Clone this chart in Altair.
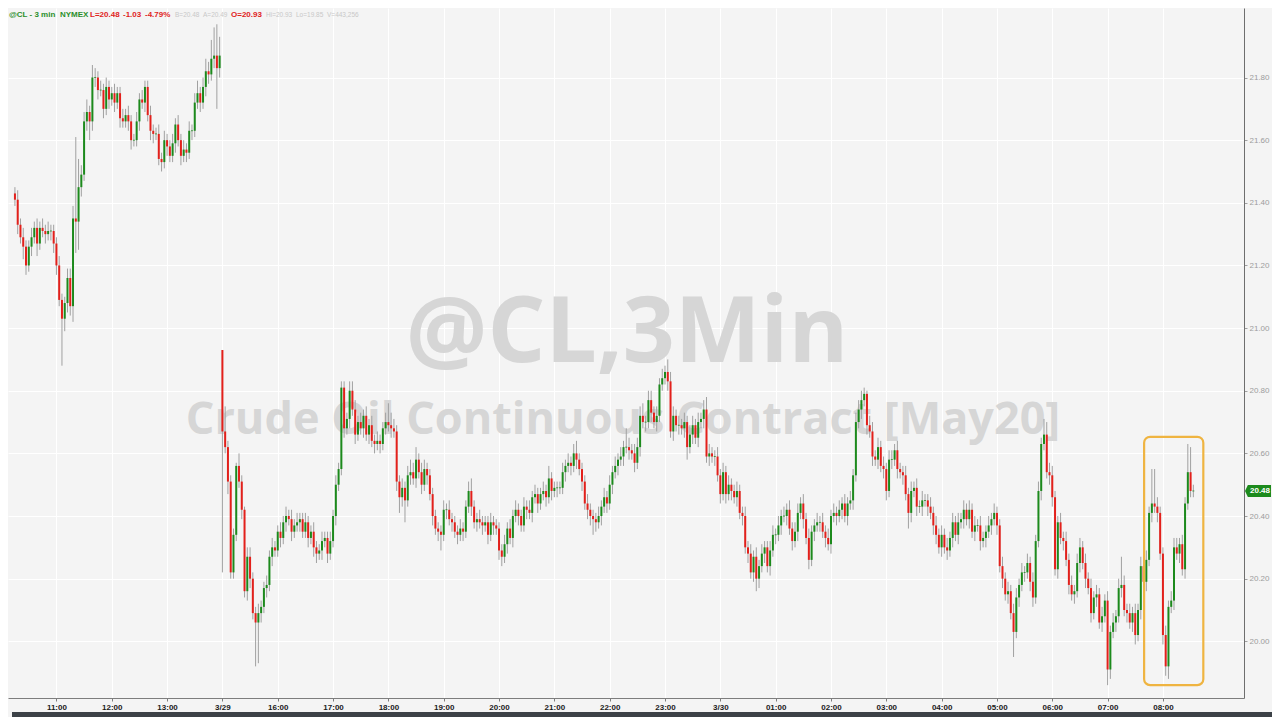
import altair as alt
import pandas as pd

# ---------------- data (prices in cents above $20.00) ----------------
# session 1: 10:15 .. 13:57 (3-minute bars)
session1_close = [
    141, 133, 129, 126, 120, 126, 129, 132, 127, 132,
    131, 130, 131, 131, 127, 120, 109, 103, 108, 116,
    107, 135, 134, 145, 149, 166, 169, 166, 180, 180,
    176, 176, 170, 177, 173, 175, 172, 175, 167, 166,
    168, 166, 160, 160, 166, 173, 172, 177, 168, 163,
    162, 162, 154, 153, 160, 158, 155, 159, 165, 160,
    155, 157, 156, 163, 163, 172, 175, 172, 177, 182,
    181, 186, 187, 183, 187]
session1_upper_wick = [
    2, 3, 2, 3, 2, 2, 3, 2, 3, 2,
    3, 2, 3, 2, 2, 2, 3, 2, 2, 3,
    3, 4, 26, 9, 3, 3, 4, 2, 4, 3,
    2, 3, 2, 3, 2, 2, 3, 2, 2, 3,
    2, 3, 2, 2, 3, 2, 3, 2, 2, 3,
    2, 2, 3, 2, 3, 2, 2, 3, 2, 3,
    2, 3, 2, 3, 2, 3, 4, 2, 3, 4,
    3, 6, 9, 10, 6]
session1_lower_wick = [
    2, 3, 2, 4, 3, 2, 3, 2, 4, 2,
    2, 3, 2, 3, 3, 3, 2, 15, 4, 3,
    3, 5, 10, 9, 3, 2, 3, 6, 3, 3,
    3, 2, 3, 2, 3, 2, 3, 2, 3, 2,
    2, 3, 3, 2, 2, 3, 2, 3, 2, 3,
    3, 2, 2, 3, 2, 3, 2, 2, 3, 2,
    3, 2, 3, 2, 3, 2, 2, 3, 2, 3,
    3, 2, 3, 13, 3]

# session 2: 3/29 15:00 .. 3/30 08:33
session2_close = [
    67, 62, 51, 22, 34, 56, 51, 42, 16, 27,
    20, 9, 6, 9, 11, 17, 18, 27, 30, 29,
    35, 33, 38, 40, 39, 35, 37, 38, 39, 35,
    38, 33, 35, 30, 28, 29, 32, 33, 28, 32,
    40, 50, 55, 81, 68, 71, 80, 74, 66, 70,
    68, 72, 66, 69, 64, 63, 64, 63, 68, 70,
    69, 68, 67, 51, 46, 49, 45, 53, 54, 52,
    58, 54, 50, 55, 53, 47, 40, 36, 35, 34,
    42, 42, 39, 38, 35, 34, 36, 35, 43, 48,
    43, 38, 39, 38, 37, 38, 34, 38, 37, 36,
    29, 27, 31, 36, 33, 40, 42, 40, 37, 43,
    42, 41, 46, 47, 44, 47, 48, 46, 52, 48,
    49, 49, 49, 54, 56, 57, 56, 60, 58, 55,
    51, 44, 42, 40, 39, 38, 40, 43, 46, 44,
    50, 54, 56, 58, 59, 62, 62, 61, 60, 57,
    62, 72, 70, 70, 77, 73, 70, 72, 82, 84,
    86, 83, 67, 72, 69, 69, 68, 70, 62, 66,
    69, 65, 70, 71, 74, 59, 60, 59, 59, 53,
    47, 54, 47, 50, 48, 46, 48, 41, 40, 30,
    28, 22, 27, 20, 24, 28, 30, 24, 29, 34,
    34, 37, 40, 40, 42, 36, 32, 35, 41, 44,
    39, 33, 26, 35, 37, 38, 38, 35, 33, 31,
    40, 41, 40, 42, 44, 40, 44, 45, 53, 70,
    74, 77, 79, 69, 67, 59, 58, 62, 56, 55,
    48, 58, 58, 61, 55, 54, 53, 47, 41, 48,
    49, 43, 43, 45, 45, 43, 41, 37, 34, 30,
    34, 30, 29, 33, 38, 34, 38, 39, 42, 39,
    42, 35, 37, 37, 32, 33, 35, 37, 39, 41,
    37, 24, 20, 15, 16, 9, 3, 14, 18, 22,
    22, 25, 19, 14, 32, 48, 63, 66, 54, 53,
    46, 23, 38, 33, 32, 26, 18, 15, 16, 25,
    30, 25, 20, 17, 9, 14, 15, 6, 8, 13,
    -9, 3, 6, 8, 17, 18, 10, 9, 6, 9,
    2, 10, 24, 19, 26, 41, 44, 43, 41, 28,
    2, -8, 11, 13, 30, 28, 31, 23, 44, 54,
    48, 48]
session2_upper_wick = [
    0, 8, 2, 2, 2, 1, 4, 2, 1, 3,
    3, 2, 2, 3, 2, 2, 3, 2, 3, 2,
    2, 3, 2, 3, 2, 3, 2, 3, 2, 2,
    3, 2, 2, 3, 2, 2, 3, 2, 2, 3,
    2, 3, 2, 2, 2, 2, 3, 3, 3, 2,
    3, 2, 3, 2, 3, 2, 3, 2, 2, 3,
    6, 4, 3, 2, 2, 3, 2, 3, 4, 3,
    4, 2, 3, 3, 2, 2, 2, 2, 2, 2,
    3, 2, 3, 2, 2, 2, 3, 2, 2, 3,
    4, 2, 2, 3, 2, 2, 2, 3, 2, 2,
    2, 2, 3, 2, 3, 2, 3, 2, 2, 3,
    2, 3, 2, 3, 2, 2, 3, 2, 4, 2,
    2, 2, 2, 3, 2, 3, 2, 3, 4, 2,
    2, 2, 3, 2, 2, 2, 3, 2, 3, 2,
    3, 2, 3, 2, 3, 2, 6, 3, 2, 3,
    3, 3, 4, 2, 3, 3, 2, 3, 2, 3,
    2, 4, 3, 3, 2, 3, 2, 3, 2, 3,
    3, 2, 3, 2, 3, 4, 3, 2, 2, 3,
    2, 3, 2, 3, 2, 2, 3, 2, 2, 3,
    2, 3, 2, 3, 2, 3, 2, 2, 3, 3,
    2, 3, 2, 3, 2, 3, 2, 3, 3, 2,
    3, 2, 3, 2, 2, 3, 2, 3, 2, 3,
    2, 3, 2, 3, 2, 3, 2, 3, 2, 3,
    3, 3, 2, 1, 3, 3, 2, 3, 2, 3,
    2, 3, 3, 2, 3, 2, 2, 3, 2, 3,
    2, 3, 2, 3, 2, 2, 3, 2, 3, 2,
    3, 2, 3, 2, 3, 2, 3, 2, 3, 2,
    3, 2, 3, 2, 3, 2, 2, 3, 2, 3,
    2, 2, 3, 2, 3, 2, 3, 3, 2, 3,
    2, 3, 2, 3, 2, 3, 2, 5, 4, 3,
    3, 2, 2, 3, 2, 3, 2, 3, 2, 3,
    3, 2, 3, 2, 3, 2, 3, 2, 3, 2,
    3, 2, 3, 2, 3, 9, 3, 2, 3, 2,
    3, 2, 3, 3, 3, 2, 11, 11, 3, 2,
    2, 3, 2, 3, 3, 3, 2, 3, 2, 9,
    8, 2]
session2_lower_wick = [
    45, 2, 4, 2, 2, 2, 2, 3, 2, 3,
    3, 2, 14, 13, 3, 2, 3, 2, 3, 2,
    2, 3, 2, 3, 2, 3, 2, 2, 3, 2,
    2, 3, 2, 3, 3, 2, 3, 2, 3, 2,
    2, 3, 2, 2, 3, 2, 3, 2, 3, 2,
    2, 3, 2, 3, 2, 3, 2, 3, 2, 2,
    2, 3, 2, 3, 5, 3, 7, 2, 3, 2,
    3, 2, 3, 2, 3, 2, 3, 2, 3, 5,
    2, 3, 2, 3, 2, 3, 2, 3, 2, 2,
    3, 2, 3, 2, 3, 2, 3, 2, 3, 2,
    3, 3, 2, 3, 2, 3, 2, 3, 2, 2,
    3, 2, 3, 2, 3, 2, 2, 3, 2, 3,
    2, 3, 2, 2, 3, 2, 3, 2, 3, 2,
    3, 2, 3, 3, 5, 3, 2, 3, 2, 3,
    2, 3, 2, 3, 2, 3, 2, 3, 2, 3,
    2, 3, 2, 3, 2, 3, 2, 3, 2, 2,
    2, 3, 2, 3, 2, 3, 2, 3, 4, 2,
    3, 2, 3, 2, 3, 2, 3, 2, 3, 2,
    3, 2, 3, 2, 3, 2, 3, 2, 3, 2,
    3, 2, 3, 4, 3, 2, 3, 2, 3, 2,
    3, 2, 3, 2, 3, 2, 3, 2, 3, 2,
    3, 2, 3, 2, 3, 2, 3, 2, 3, 2,
    3, 2, 3, 2, 3, 2, 3, 2, 3, 2,
    2, 3, 2, 3, 2, 3, 2, 3, 2, 3,
    3, 2, 3, 2, 3, 2, 3, 2, 5, 3,
    2, 3, 2, 3, 2, 3, 2, 3, 3, 2,
    3, 2, 3, 2, 3, 2, 3, 2, 3, 2,
    3, 2, 3, 2, 3, 2, 3, 2, 3, 2,
    3, 2, 3, 2, 3, 2, 8, 2, 3, 2,
    3, 2, 3, 3, 2, 2, 3, 2, 2, 3,
    3, 2, 3, 2, 3, 2, 3, 2, 3, 2,
    3, 2, 3, 2, 3, 2, 3, 2, 3, 2,
    5, 3, 2, 3, 2, 3, 2, 3, 2, 3,
    3, 2, 3, 2, 3, 2, 3, 2, 3, 2,
    3, 3, 4, 2, 3, 2, 3, 2, 3, 2,
    2, 2]

# opening prints of each session (bar index -> cents above $20.00)
session_open = {0: 143, 75: 93}

tick_index = [15, 35, 55, 75, 95, 115, 135, 155, 175, 195, 215,
              235, 255, 275, 295, 315, 335, 355, 375, 395, 415]
tick_label = ["11:00", "12:00", "13:00", "3/29", "16:00", "17:00", "18:00",
              "19:00", "20:00", "21:00", "22:00", "23:00", "3/30", "01:00",
              "02:00", "03:00", "04:00", "05:00", "06:00", "07:00", "08:00"]
price_ticks = [20.0, 20.2, 20.4, 20.6, 20.8, 21.0, 21.2, 21.4, 21.6, 21.8]
last_price = 20.48
highlight_bars = [408.2, 429.6]
highlight_prices = [19.86, 20.653]

header_text = ["@CL - 3 min", "NYMEX", "L=20.48", "-1.03", "-4.79%",
               "B=20.48", "A=20.49", "O=20.93", "Hi=20.93", "Lo=19.85", "V=443,256"]
header_kind = ["sym", "sym", "chg", "chg", "chg", "info", "info", "chg",
               "info", "info", "info"]
watermark_title = "@CL,3Min"
watermark_subtitle = "Crude Oil Continuous Contract [May20]"

# ---------------- build the candle table ----------------
closes = session1_close + session2_close
uw = session1_upper_wick + session2_upper_wick
lw = session1_lower_wick + session2_lower_wick
rows = []
for i, c in enumerate(closes):
    o = session_open.get(i, closes[i - 1])
    top, bot = max(o, c), min(o, c)
    rows.append({
        "i": i,
        "open": 20 + o / 100,
        "close": 20 + c / 100,
        "high": 20 + (top + uw[i]) / 100,
        "low": 20 + (bot - lw[i]) / 100,
        "body_hi": 20 + top / 100 + (0.0012 if top == bot else 0),
        "body_lo": 20 + bot / 100 - (0.0012 if top == bot else 0),
        "dir": "up" if c >= o else "down",
    })
candles = pd.DataFrame(rows)

# ---------------- layout / style ----------------
W, H = 1236, 690
GREEN, RED = "#1c8a1c", "#e3201b"
BG = "#f4f4f4"

label_expr = ("[" + ",".join("'%s'" % t for t in tick_label) + "][indexof(["
              + ",".join(str(v) for v in tick_index) + "], datum.value)]")

x_scale = alt.Scale(domain=[-0.7, 442.5], nice=False, zero=False)
y_scale = alt.Scale(domain=[19.819, 22.022], nice=False, zero=False)
x_axis = alt.Axis(values=tick_index, labelExpr=label_expr, grid=True,
                  gridColor="#ffffff", gridWidth=1, domainColor="#7d7d7d",
                  tickColor="#7d7d7d", tickSize=3, labelFont="Liberation Sans",
                  labelFontSize=8, labelFontWeight="bold", labelColor="#1a1a1a",
                  labelPadding=2, title=None, labelFlush=False)
y_axis = alt.Axis(orient="right", values=price_ticks, format=".2f", grid=True,
                  gridColor="#ffffff", gridWidth=1, domainColor="#6e6e6e",
                  tickColor="#a0a0a0", tickSize=3, labelFont="Liberation Sans",
                  labelFontSize=8, labelColor="#9c9c9c", labelPadding=2,
                  title=None)


def X(field):
    return alt.X(field, type="quantitative", scale=x_scale, axis=x_axis)


def Y(field):
    return alt.Y(field, type="quantitative", scale=y_scale, axis=y_axis)


wm = pd.DataFrame({"t": [watermark_title], "s": [watermark_subtitle]})
wm_title = alt.Chart(wm).mark_text(
    font="Open Sans", fontWeight="bold", fontSize=91, color="#d6d6d6",
    align="center", baseline="alphabetic"
).encode(x=alt.value(619), y=alt.value(354), text="t:N")
wm_sub = alt.Chart(wm).mark_text(
    font="Open Sans", fontWeight="bold", fontSize=45, color="#d6d6d6",
    align="center", baseline="alphabetic"
).encode(x=alt.value(615), y=alt.value(426), text="s:N")

wicks = alt.Chart(candles).mark_rule(color="#a0a0a0", strokeWidth=1).encode(
    x=X("i"), y=Y("low"), y2="high")

bodies = alt.Chart(candles).mark_bar(orient="vertical", size=2).encode(
    x=X("i"), y=Y("body_lo"), y2="body_hi",
    color=alt.Color("dir:N", scale=alt.Scale(domain=["up", "down"],
                                             range=[GREEN, RED]), legend=None))

box_df = pd.DataFrame({"x0": [highlight_bars[0]], "x1": [highlight_bars[1]],
                       "lo": [highlight_prices[0]], "hi": [highlight_prices[1]]})
box = alt.Chart(box_df).mark_rect(
    fill="transparent", stroke="#efb441", strokeWidth=2.2, cornerRadius=6
).encode(x=X("x0"), x2="x1", y=Y("lo"), y2="hi")

tag_df = pd.DataFrame({"p": [last_price], "t": ["%.2f" % last_price]})
tag_shape = "M -1 0 L -0.78 -0.46 L 1 -0.46 L 1 0.46 L -0.78 0.46 Z"
tag = alt.Chart(tag_df).mark_point(
    shape=tag_shape, size=676, filled=True, color=GREEN, opacity=1, strokeWidth=0
).encode(x=alt.value(W + 14), y=Y("p"))
tag_text = alt.Chart(tag_df).mark_text(
    font="Liberation Sans", fontSize=8, fontWeight="bold", color="#ffffff",
    align="center", baseline="middle"
).encode(x=alt.value(W + 16), y=Y("p"), text="t:N")

hdr_x = [1, 52, 82, 115, 137, 167, 195, 223, 258, 288, 319]
hdr_color = {"sym": "#2b8f2b", "chg": "#e0231c", "info": "#c8c8c8"}
hdr = pd.DataFrame({"t": header_text, "k": header_kind, "x": hdr_x})
hdr["c"] = hdr["k"].map(hdr_color)
header_bold = alt.Chart(hdr[hdr.k != "info"]).mark_text(
    font="Liberation Sans", fontSize=8, fontWeight="bold", align="left",
    baseline="alphabetic"
).encode(x=alt.X("x:Q", scale=None), y=alt.value(9), text="t:N",
         color=alt.Color("c:N", scale=None))
header_info = alt.Chart(hdr[hdr.k == "info"]).mark_text(
    font="Liberation Sans", fontSize=6.5, align="left", baseline="alphabetic"
).encode(x=alt.X("x:Q", scale=None), y=alt.value(9), text="t:N",
         color=alt.Color("c:N", scale=None))

strip = alt.Chart(wm).mark_rect(color="#3c4147").encode(
    x=alt.value(4), x2=alt.value(W + 28), y=alt.value(H + 14), y2=alt.value(H + 19))

chart = alt.layer(
    wm_title, wm_sub, wicks, bodies, box, tag, tag_text, header_bold,
    header_info, strip
).resolve_scale(color="independent").properties(
    width=W, height=H, background=BG,
    padding={"left": 0, "top": 0, "right": 0, "bottom": 0}
).configure_view(fill=BG, strokeWidth=0)

chart.save("out.html", embed_options={"renderer": "svg", "actions": False})
